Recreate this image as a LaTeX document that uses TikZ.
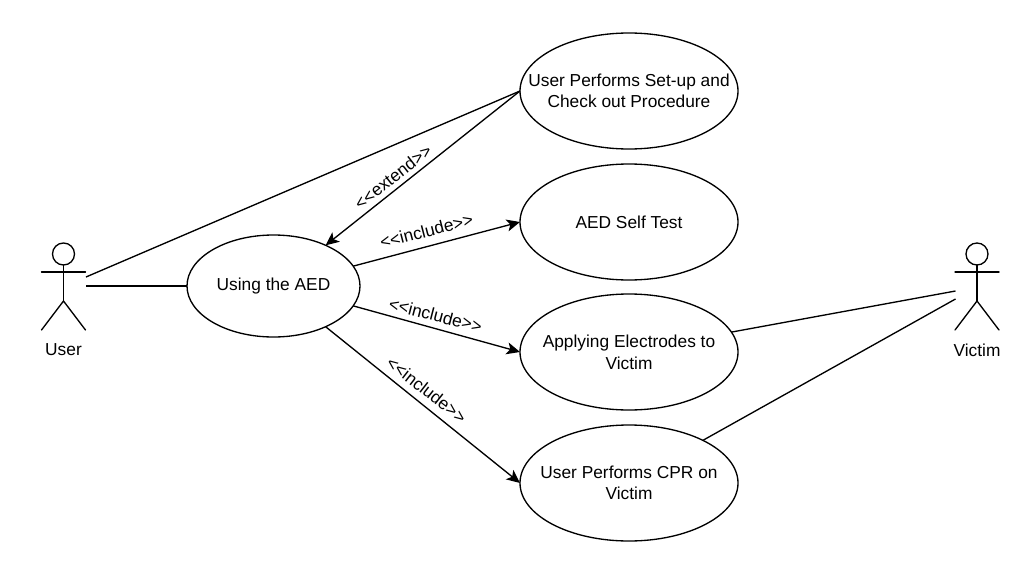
\documentclass[tikz,border=0pt]{standalone}
\usepackage{fontspec}
\setmainfont{Liberation Sans}
\usetikzlibrary{shapes.geometric,arrows.meta}
\tikzset{
	usecase/.style={draw,ellipse,outer sep=0pt,inner xsep=-80pt,inner ysep=-30pt,align=center,minimum width=163.5pt,minimum height=87pt},
	stickline/.style={line width=1pt,line cap=round},
	assoc/.style={line width=1pt},
	dep/.style={line width=1pt,-{Stealth[length=10pt,width=9pt,inset=2.5pt]}},
	deplabel/.style={inner sep=0pt}
}

\begin{document}
\begin{tikzpicture}[x=0.75pt,y=-0.75pt,line width=1pt,font=\fontsize{13}{16.2}\selectfont]
	\useasboundingbox[fill=white] (0,0) rectangle (1013,571);
	% the two actors
	\foreach \name/\x in {User/63.5,Victim/977}
	{
		\node[draw,circle,minimum size=16.5pt,inner sep=0pt,outer sep=0pt] (\name Head) at (\x,254) {};
		\coordinate (\name ArmL) at (\x-22,272);
		\coordinate (\name ArmR) at (\x+22,272);
		\coordinate (\name Hip) at (\x,301);
		\coordinate (\name FootL) at (\x-22,330);
		\coordinate (\name FootR) at (\x+22,330);
		\draw[stickline] (\name Head) -- (\name Hip);
		\draw[stickline] (\name ArmL) -- (\name ArmR);
		\draw[stickline] (\name FootL) -- (\name Hip) -- (\name FootR);
		\node (\name Label) at (\x,350) {\name};
	}
	\node[usecase,minimum width=129.75pt,minimum height=76.5pt] (Using) at (273.5,286) {Using the AED};
	\node[usecase] (Setup) at (629,91) {User Performs Set-up and\\Check out Procedure};
	\node[usecase] (SelfTest) at (629,222) {AED Self Test};
	\node[usecase] (Electrodes) at (629,352) {Applying Electrodes to\\Victim};
	\node[usecase] (CPR) at (629,483) {User Performs CPR on\\Victim};
	% free ends next to the actors
	\coordinate (UserTop) at (86,277);
	\coordinate (UserMid) at (86,286);
	\coordinate (VictimTop) at (955.5,291);
	\coordinate (VictimLow) at (955.5,299);
	\draw[assoc] (UserTop) -- (Setup.west);
	\draw[assoc] (UserMid) -- (Using.west);
	\draw[assoc] (Electrodes.11) -- (VictimTop);
	\draw[assoc] (CPR.30) -- (VictimLow);
	\draw[dep] (Setup.west) -- (Using.38);
	\draw[dep] (Using.14.5) -- (SelfTest.west);
	\draw[dep] (Using.-14.5) -- (Electrodes.west);
	\draw[dep] (Using.-38) -- (CPR.west);
	\node[deplabel,rotate=38] (ExtendLabel) at (393,177) {<{}<extend>{}>};
	\node[deplabel,rotate=14.5] (IncludeLabelA) at (426.5,231) {<{}<include>{}>};
	\node[deplabel,rotate=-14.5] (IncludeLabelB) at (435.5,315) {<{}<include>{}>};
	\node[deplabel,rotate=-38] (IncludeLabelC) at (426.5,390) {<{}<include>{}>};
\end{tikzpicture}
\end{document}
